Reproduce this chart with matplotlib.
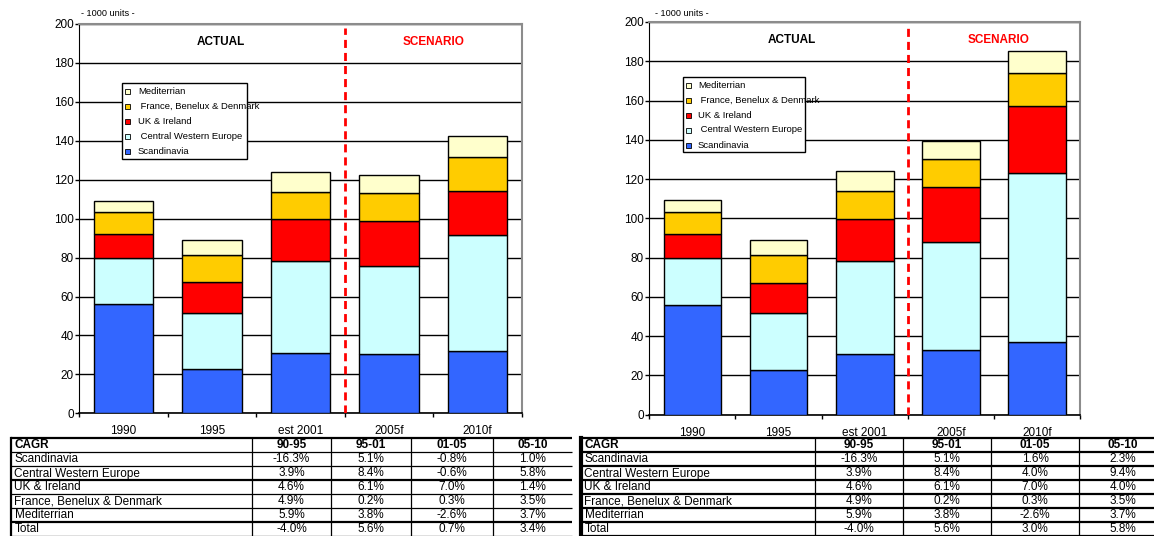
import matplotlib
matplotlib.use("Agg")
import matplotlib.pyplot as plt
from matplotlib.patches import Rectangle
import numpy as np

plt.rcParams["font.family"] = ["Liberation Sans", "DejaVu Sans"]

# ---- data -------------------------------------------------------------
categories = ["1990", "1995", "est 2001", "2005f", "2010f"]
colors = ["#3366FF", "#CCFFFF", "#FF0000", "#FFCC00", "#FFFFCC"]
legend_labels = ["Scandinavia", " Central Western Europe", "UK & Ireland",
                 " France, Benelux & Denmark", "Mediterrian"]

# base case (thousand units)
base_scandinavia = [56, 23, 30.8, 30.5, 32]
base_cwe = [24, 28.7, 47.3, 45, 59.5]
base_uk = [12, 15.6, 21.7, 23.1, 22.9]
base_fbd = [11.3, 13.9, 13.9, 14.4, 17.5]
base_med = [6, 8, 10.3, 9.3, 10.8]

# growth scenario (thousand units)
scen_scandinavia = [56, 23, 30.8, 33.1, 37.2]
scen_cwe = [24, 28.7, 47.3, 54.7, 86.1]
scen_uk = [12, 15.6, 21.7, 28.3, 33.7]
scen_fbd = [11.3, 13.9, 13.9, 14.0, 16.9]
scen_med = [6, 8, 10.3, 9.3, 11.3]

cagr_periods = ["90-95", "95-01", "01-05", "05-10"]
cagr_rows = ["Scandinavia", "Central Western Europe", "UK & Ireland",
             "France, Benelux & Denmark", "Mediterrian", "Total"]
base_cagr = [
    ["-16.3%", "5.1%", "-0.8%", "1.0%"],
    ["3.9%", "8.4%", "-0.6%", "5.8%"],
    ["4.6%", "6.1%", "7.0%", "1.4%"],
    ["4.9%", "0.2%", "0.3%", "3.5%"],
    ["5.9%", "3.8%", "-2.6%", "3.7%"],
    ["-4.0%", "5.6%", "0.7%", "3.4%"],
]
scen_cagr = [
    ["-16.3%", "5.1%", "1.6%", "2.3%"],
    ["3.9%", "8.4%", "4.0%", "9.4%"],
    ["4.6%", "6.1%", "7.0%", "4.0%"],
    ["4.9%", "0.2%", "0.3%", "3.5%"],
    ["5.9%", "3.8%", "-2.6%", "3.7%"],
    ["-4.0%", "5.6%", "3.0%", "5.8%"],
]

W, H = 1154, 536
fig = plt.figure(figsize=(W / 100, H / 100), dpi=100)
fig.patch.set_facecolor("white")

TICK_FS = 8.5
TABLE_FS = 8.5


def px_rect(x0, y0, x1, y1):
    return [x0 / W, 1 - y1 / H, (x1 - x0) / W, (y1 - y0) / H]


def draw_chart(rect, stacks, actual_x, scen_x):
    ax = fig.add_axes(px_rect(*rect))
    x = np.arange(len(categories))
    bottom = np.zeros(len(categories))
    for vals, c in zip(stacks, colors):
        ax.bar(x, vals, width=0.67, bottom=bottom, color=c,
               edgecolor="black", linewidth=1.0, zorder=3)
        bottom += np.asarray(vals, dtype=float)
    ax.set_xlim(-0.5, len(categories) - 0.5)
    ax.set_ylim(0, 200)
    ax.set_yticks(np.arange(0, 201, 20))
    ax.yaxis.grid(True, color="black", linewidth=1.0, zorder=1)
    ax.set_axisbelow(True)
    ax.set_xticks(x)
    ax.set_xticklabels(categories)
    ax.set_xticks(np.arange(-0.5, len(categories), 1), minor=True)
    ax.tick_params(axis="x", which="major", length=0, pad=8.5,
                   labelsize=TICK_FS)
    ax.tick_params(axis="x", which="minor", length=3, width=1, direction="out")
    ax.tick_params(axis="y", length=3, width=1, direction="out", pad=1,
                   labelsize=TICK_FS)
    ax.spines["left"].set_color("black")
    ax.spines["bottom"].set_color("black")
    ax.spines["bottom"].set_linewidth(1.2)
    for s in ("top", "right"):
        ax.spines[s].set_color("#8c8c8c")
        ax.spines[s].set_linewidth(1.5)
    ax.axvline(2.5, ymin=0, ymax=0.99, color="#FF0000", linewidth=2.0,
               linestyle=(0, (2.9, 1.8)), zorder=4)
    ax.text(actual_x, 190.7, "ACTUAL", ha="center", va="center",
            fontsize=8.5, fontweight="bold", color="black")
    ax.text(scen_x, 190.7, "SCENARIO", ha="center", va="center",
            fontsize=8.5, fontweight="bold", color="#FF0000")
    return ax


draw_chart((79.3, 24, 521.7, 413.3),
           [base_scandinavia, base_cwe, base_uk, base_fbd, base_med], 1.1, 3.5)
draw_chart((649.3, 22, 1080, 414.7),
           [scen_scandinavia, scen_cwe, scen_uk, scen_fbd, scen_med], 1.15, 3.55)

# overlay in pixel coordinates for legends, captions and CAGR tables
ov = fig.add_axes([0, 0, 1, 1])
ov.set_xlim(0, W)
ov.set_ylim(H, 0)
ov.axis("off")
ov.patch.set_alpha(0)

ov.text(81, 14, "- 1000 units -", fontsize=6.6, va="center", ha="left")
ov.text(655, 13, "- 1000 units -", fontsize=6.6, va="center", ha="left")


def draw_legend(box, mark_x, text_x, y_top, step):
    x0, y0, x1, y1 = box
    ov.add_patch(Rectangle((x0, y0), x1 - x0, y1 - y0, facecolor="white",
                           edgecolor="black", linewidth=1.0, zorder=5))
    order = list(range(len(legend_labels)))[::-1]
    for i, k in enumerate(order):
        yy = y_top + i * step
        ov.add_patch(Rectangle((mark_x - 2.5, yy - 2.5), 5, 5,
                               facecolor=colors[k], edgecolor="black",
                               linewidth=0.6, zorder=6))
        ov.text(text_x, yy, legend_labels[k], fontsize=6.8, va="center",
                ha="left", zorder=7)


draw_legend((122, 83, 247, 159), 127.8, 137.8, 91.7, 15)
draw_legend((683, 76.7, 805, 152.3), 688, 697.8, 85, 15)


def draw_table(x_left, col_edges, x_right, cagr, thick_rows, left_lw):
    row_top = 438
    row_h = 14
    n_rows = len(cagr_rows) + 1
    ys = [row_top + i * row_h for i in range(n_rows + 1)]
    for i, y in enumerate(ys):
        lw = 1.6 if i in thick_rows else 0.9
        ov.plot([x_left, x_right], [y, y], color="black", linewidth=lw,
                solid_capstyle="butt")
    ov.plot([x_left, x_left], [ys[0], H], color="black", linewidth=left_lw)
    for cx in col_edges:
        ov.plot([cx, cx], [ys[0], H], color="black", linewidth=0.9)
    edges = list(col_edges) + [x_right]
    centers = [(edges[j] + edges[j + 1]) / 2 for j in range(len(col_edges))]
    ymid = [y + row_h / 2 + 0.5 for y in ys[:-1]]
    ov.text(x_left + 3.5, ymid[0], "CAGR", fontsize=TABLE_FS,
            fontweight="bold", va="center", ha="left")
    for j, p in enumerate(cagr_periods):
        ov.text(centers[j], ymid[0], p, fontsize=TABLE_FS, fontweight="bold",
                va="center", ha="center")
    for r, name in enumerate(cagr_rows):
        ov.text(x_left + 3.5, ymid[r + 1], name, fontsize=TABLE_FS,
                va="center", ha="left")
        for j, val in enumerate(cagr[r]):
            ov.text(centers[j], ymid[r + 1], val, fontsize=TABLE_FS,
                    va="center", ha="center")


draw_table(11, [252, 331, 411, 493], 572, base_cagr, {0, 3, 6}, 1.6)
draw_table(581, [815, 903, 991, 1079], 1167, scen_cagr,
           {0, 1, 2, 3, 4, 5, 6, 7}, 3.0)

fig.savefig("out.png", dpi=100, facecolor="white")
